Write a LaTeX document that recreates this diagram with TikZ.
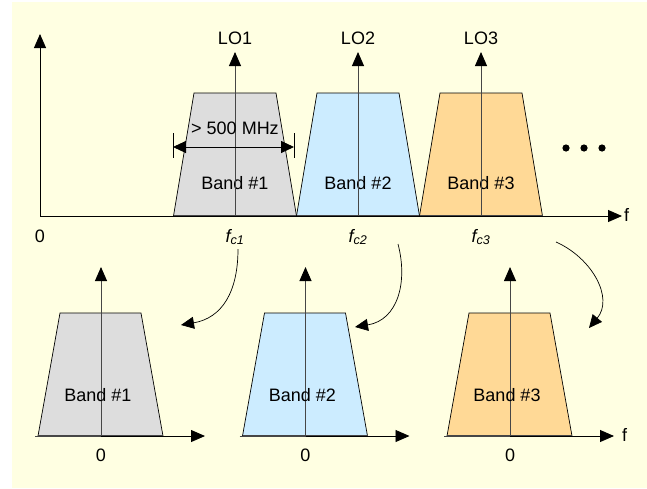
\documentclass[tikz,border=0pt]{standalone}
\usepackage{fontspec}
\setmainfont{Liberation Sans}
\usetikzlibrary{arrows.meta}
\definecolor{bgyellow}{RGB}{255,255,226}
\definecolor{bandgray}{RGB}{221,221,221}
\definecolor{bandblue}{RGB}{204,236,255}
\definecolor{bandorange}{RGB}{255,217,150}
\definecolor{axisgray}{RGB}{70,70,70}
\tikzset{
  lbl/.style={inner sep=0pt, font=\fontsize{18}{20}\selectfont},
  tip/.style={-{Triangle[length=14pt,width=12pt,black]}},
  axis/.style={draw=black, line width=0.9pt, tip},
  inaxis/.style={draw=axisgray, line width=0.9pt, tip},
  bandshape/.style={draw=black, line width=0.7pt},
  baseline/.style={draw=axisgray, line width=1.6pt},
  mapping/.style={draw=black, line width=0.7pt, -{Triangle[length=13pt,width=12pt,black]}},
}
\begin{document}
\begin{tikzpicture}[x=1pt,y=-1pt]
  \useasboundingbox (0,0) rectangle (647,488);
  \fill[white] (0,0) rectangle (647,488);
  \fill[bgyellow] (12,2) rectangle (647,488);

  % ---------- upper spectrum ----------
  \coordinate (O) at (40,216);
  \coordinate (Ytop) at (40,34);
  \coordinate (Xend) at (622,216);

  % three bands
  \foreach \cx/\col/\n in {235/bandgray/1, 358/bandblue/2, 481/bandorange/3}{
    \filldraw[bandshape, fill=\col] (\cx-61.5,216) -- (\cx-41,93) -- (\cx+41,93) -- (\cx+61.5,216) -- cycle;
    \draw[baseline] (\cx-61.5,216) -- (\cx+61.5,216);
    \node[lbl] (band\n) at (\cx,183) {Band \#\n};
    \coordinate (lobase\n) at (\cx,216);
    \coordinate (lotip\n) at (\cx,52);
    \node[lbl] (lo\n) at (\cx,38) {LO\n};
    \node[lbl] (fc\n) at (\cx,237) {\itshape f\textsubscript{c\n}};
  }
  \draw[inaxis] (lobase1) -- (lotip1);
  \draw[inaxis] (lobase2) -- (lotip2);
  \draw[inaxis] (lobase3) -- (lotip3);

  \draw[axis] (O) -- (Ytop);
  \draw[axis] (O) -- (Xend);
  \node[lbl, anchor=west] (fmain) at (624,215) {f};
  \node[lbl] (zero) at (40,236) {0};

  % bandwidth marker
  \node[lbl] (bw) at (235,128) {> 500 MHz};
  \coordinate (bwl) at (173,147);
  \coordinate (bwr) at (294,147);
  \draw[line width=0.7pt] (173,133) -- (173,158);
  \draw[line width=0.7pt] (294,133) -- (294,158);
  \draw[line width=0.9pt, {Triangle[length=13pt,width=12pt]}-{Triangle[length=13pt,width=12pt]}] (bwl) -- (bwr);

  % continuation dots
  \foreach \dx in {566,584,602}{
    \fill[black] (\dx,148) circle (3.6);
  }

  % ---------- baseband copies ----------
  \foreach \cx/\col/\n in {101/bandgray/1, 305.5/bandblue/2, 510/bandorange/3}{
    \filldraw[bandshape, fill=\col] (\cx-63,436) -- (\cx-41,313) -- (\cx+40,313) -- (\cx+62,436) -- cycle;
    \coordinate (bo\n) at (\cx,436);
    \coordinate (bt\n) at (\cx,267);
    \coordinate (bl\n) at (\cx-66,436);
    \coordinate (br\n) at (\cx+104,436);
    \draw[baseline] (\cx-63,436) -- (\cx+62,436);
    \draw[axisgray, line width=0.9pt] (bl\n) -- (bo\n);
    \draw[axis] (bo\n) -- (br\n);
    \draw[inaxis] (bo\n) -- (bt\n);
    \node[lbl] (bband\n) at (\cx-3,395) {Band \#\n};
    \node[lbl] (bzero\n) at (\cx,455) {0};
  }
  \node[lbl, anchor=west] (fbase) at (622,435) {f};

  % down-conversion arrows
  \coordinate (m1s) at (238,249);
  \coordinate (m1e) at (181,325);
  \coordinate (m2s) at (398,244);
  \coordinate (m2e) at (355,327);
  \coordinate (m3s) at (556,242);
  \coordinate (m3e) at (589,328);
  \draw[mapping] (m1s) .. controls (238,292) and (222,318) .. (m1e);
  \draw[mapping] (m2s) .. controls (408,282) and (398,320) .. (m2e);
  \draw[mapping] (m3s) .. controls (592,258) and (614,298) .. (m3e);
\end{tikzpicture}
\end{document}
